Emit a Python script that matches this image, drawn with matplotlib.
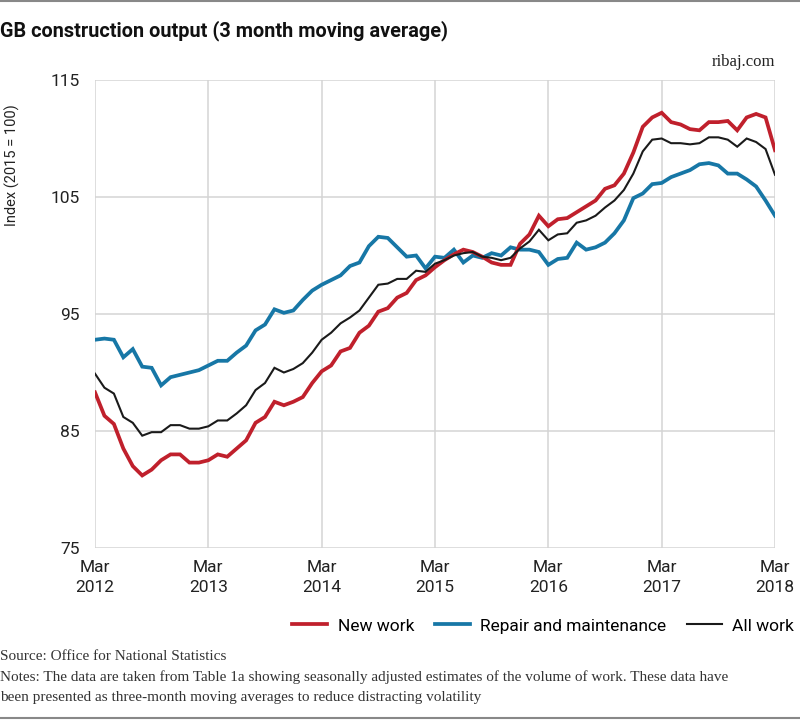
import numpy as np
import matplotlib
matplotlib.use("Agg")
import matplotlib.pyplot as plt
from matplotlib.lines import Line2D

plt.rcParams['font.family'] = ['Roboto', 'DejaVu Sans']

# ==== data: monthly index, Mar 2012 .. Mar 2018 (3 month moving average) ====
new_work = [88.3, 86.3, 85.6, 83.5, 82.0, 81.2, 81.7, 82.5, 83.0, 83.0, 82.3, 82.3,
            82.5, 83.0, 82.8, 83.5, 84.2, 85.7, 86.2, 87.5, 87.2, 87.5, 87.9, 89.1,
            90.1, 90.6, 91.8, 92.1, 93.4, 94.0, 95.2, 95.5, 96.4, 96.8, 97.9, 98.3,
            99.0, 99.6, 100.1, 100.5, 100.3, 99.9, 99.4, 99.2, 99.2, 101.0, 101.8, 103.4,
            102.5, 103.1, 103.2, 103.7, 104.2, 104.7, 105.7, 106.0, 107.0, 108.8, 111.0, 111.8,
            112.2, 111.4, 111.2, 110.8, 110.7, 111.4, 111.4, 111.5, 110.7, 111.8, 112.1, 111.8,
            109.0]
repair = [92.8, 92.9, 92.8, 91.3, 92.0, 90.5, 90.4, 88.9, 89.6, 89.8, 90.0, 90.2,
          90.6, 91.0, 91.0, 91.7, 92.3, 93.6, 94.1, 95.4, 95.1, 95.3, 96.2, 97.0,
          97.5, 97.9, 98.3, 99.1, 99.4, 100.8, 101.6, 101.5, 100.7, 99.9, 100.0, 98.9,
          99.9, 99.8, 100.5, 99.4, 100.0, 99.8, 100.2, 100.0, 100.7, 100.5, 100.5, 100.3,
          99.2, 99.7, 99.8, 101.1, 100.5, 100.7, 101.1, 101.9, 103.0, 104.9, 105.3, 106.1,
          106.2, 106.7, 107.0, 107.3, 107.8, 107.9, 107.7, 107.0, 107.0, 106.5, 105.9, 104.7,
          103.4]
all_work = [89.9, 88.7, 88.2, 86.2, 85.7, 84.6, 84.9, 84.9, 85.5, 85.5, 85.2, 85.2,
            85.4, 85.9, 85.9, 86.5, 87.2, 88.5, 89.1, 90.4, 90.0, 90.3, 90.8, 91.7,
            92.8, 93.4, 94.2, 94.7, 95.3, 96.4, 97.5, 97.6, 98.0, 98.0, 98.7, 98.6,
            99.3, 99.6, 100.0, 100.2, 100.3, 99.9, 99.8, 99.6, 99.8, 100.6, 101.2, 102.2,
            101.3, 101.8, 101.9, 102.8, 103.0, 103.4, 104.1, 104.7, 105.6, 107.0, 108.9, 109.9,
            110.0, 109.6, 109.6, 109.5, 109.6, 110.1, 110.1, 109.9, 109.3, 110.0, 109.7, 109.1,
            106.9]
tick_labels = ["Mar\n2012", "Mar\n2013", "Mar\n2014", "Mar\n2015",
               "Mar\n2016", "Mar\n2017", "Mar\n2018"]
y_ticks = [75, 85, 95, 105, 115]

months = np.arange(len(new_work))

RED = "#c0202c"
BLUE = "#1777a6"
BLACK = "#1a1a1a"
GRID = "#d4d4d4"

fig = plt.figure(figsize=(8, 7.21), dpi=100)
ax = fig.add_axes([95 / 800, 1 - 548 / 721, 680 / 800, 468 / 721])

ax.plot(months, new_work, color=RED, lw=2.7, solid_joinstyle="miter", label="New work", zorder=3)
ax.plot(months, repair, color=BLUE, lw=2.7, solid_joinstyle="miter", label="Repair and maintenance", zorder=2)
ax.plot(months, all_work, color=BLACK, lw=1.5, solid_joinstyle="miter", label="All work", zorder=4)

ax.set_xlim(0, 72)
ax.set_ylim(75, 115)
ax.set_xticks(np.arange(0, 73, 12))
ax.set_xticklabels(tick_labels, fontsize=12.5, color="#222222", linespacing=1.35)
ax.set_yticks(y_ticks)
ax.set_yticklabels([str(v) for v in y_ticks], fontsize=12.5, color="#222222")
ax.tick_params(length=0, pad=11)
ax.tick_params(axis="x", pad=9)
ax.grid(True, color=GRID, lw=1.1)
for s in ax.spines.values():
    s.set_visible(False)

fig.text(12 / 800, 1 - 165 / 721, "Index (2015 = 100)", rotation=90, fontsize=10.5,
         ha="center", va="center", color="#222222")

fig.text(0, 1 - 31 / 721, "GB construction output (3 month moving average)",
         fontsize=14.3, fontweight="bold", ha="left", va="center", color="#111111")
fig.text(775 / 800, 1 - 62 / 721, "ribaj.com", fontsize=12, family="Liberation Serif",
         ha="right", va="center", color="#222222")

fig.legend(loc="center right", bbox_to_anchor=(794 / 800, 1 - 626 / 721), ncol=3,
           frameon=False, fontsize=12.5, handlelength=2.0, handletextpad=0.6,
           columnspacing=1.2, borderaxespad=0, borderpad=0)

fig.text(0, 1 - 656 / 721, "Source: Office for National Statistics", fontsize=11,
         family="Liberation Serif", ha="left", va="center", color="#333333")
fig.text(0, 1 - 677 / 721,
         "Notes: The data are taken from Table 1a showing seasonally adjusted estimates of the volume of work. These data have",
         fontsize=11, family="Liberation Serif", ha="left", va="center", color="#333333")
fig.text(0, 1 - 697 / 721,
         "been presented as three-month moving averages to reduce distracting volatility",
         fontsize=11, family="Liberation Serif", ha="left", va="center", color="#333333")

fig.add_artist(Line2D([0, 1], [1 - 1 / 721, 1 - 1 / 721], color="#888888", lw=1.5))
fig.add_artist(Line2D([0, 1], [1 - 718 / 721, 1 - 718 / 721], color="#888888", lw=1.5))

fig.savefig("out.png", dpi=100)
